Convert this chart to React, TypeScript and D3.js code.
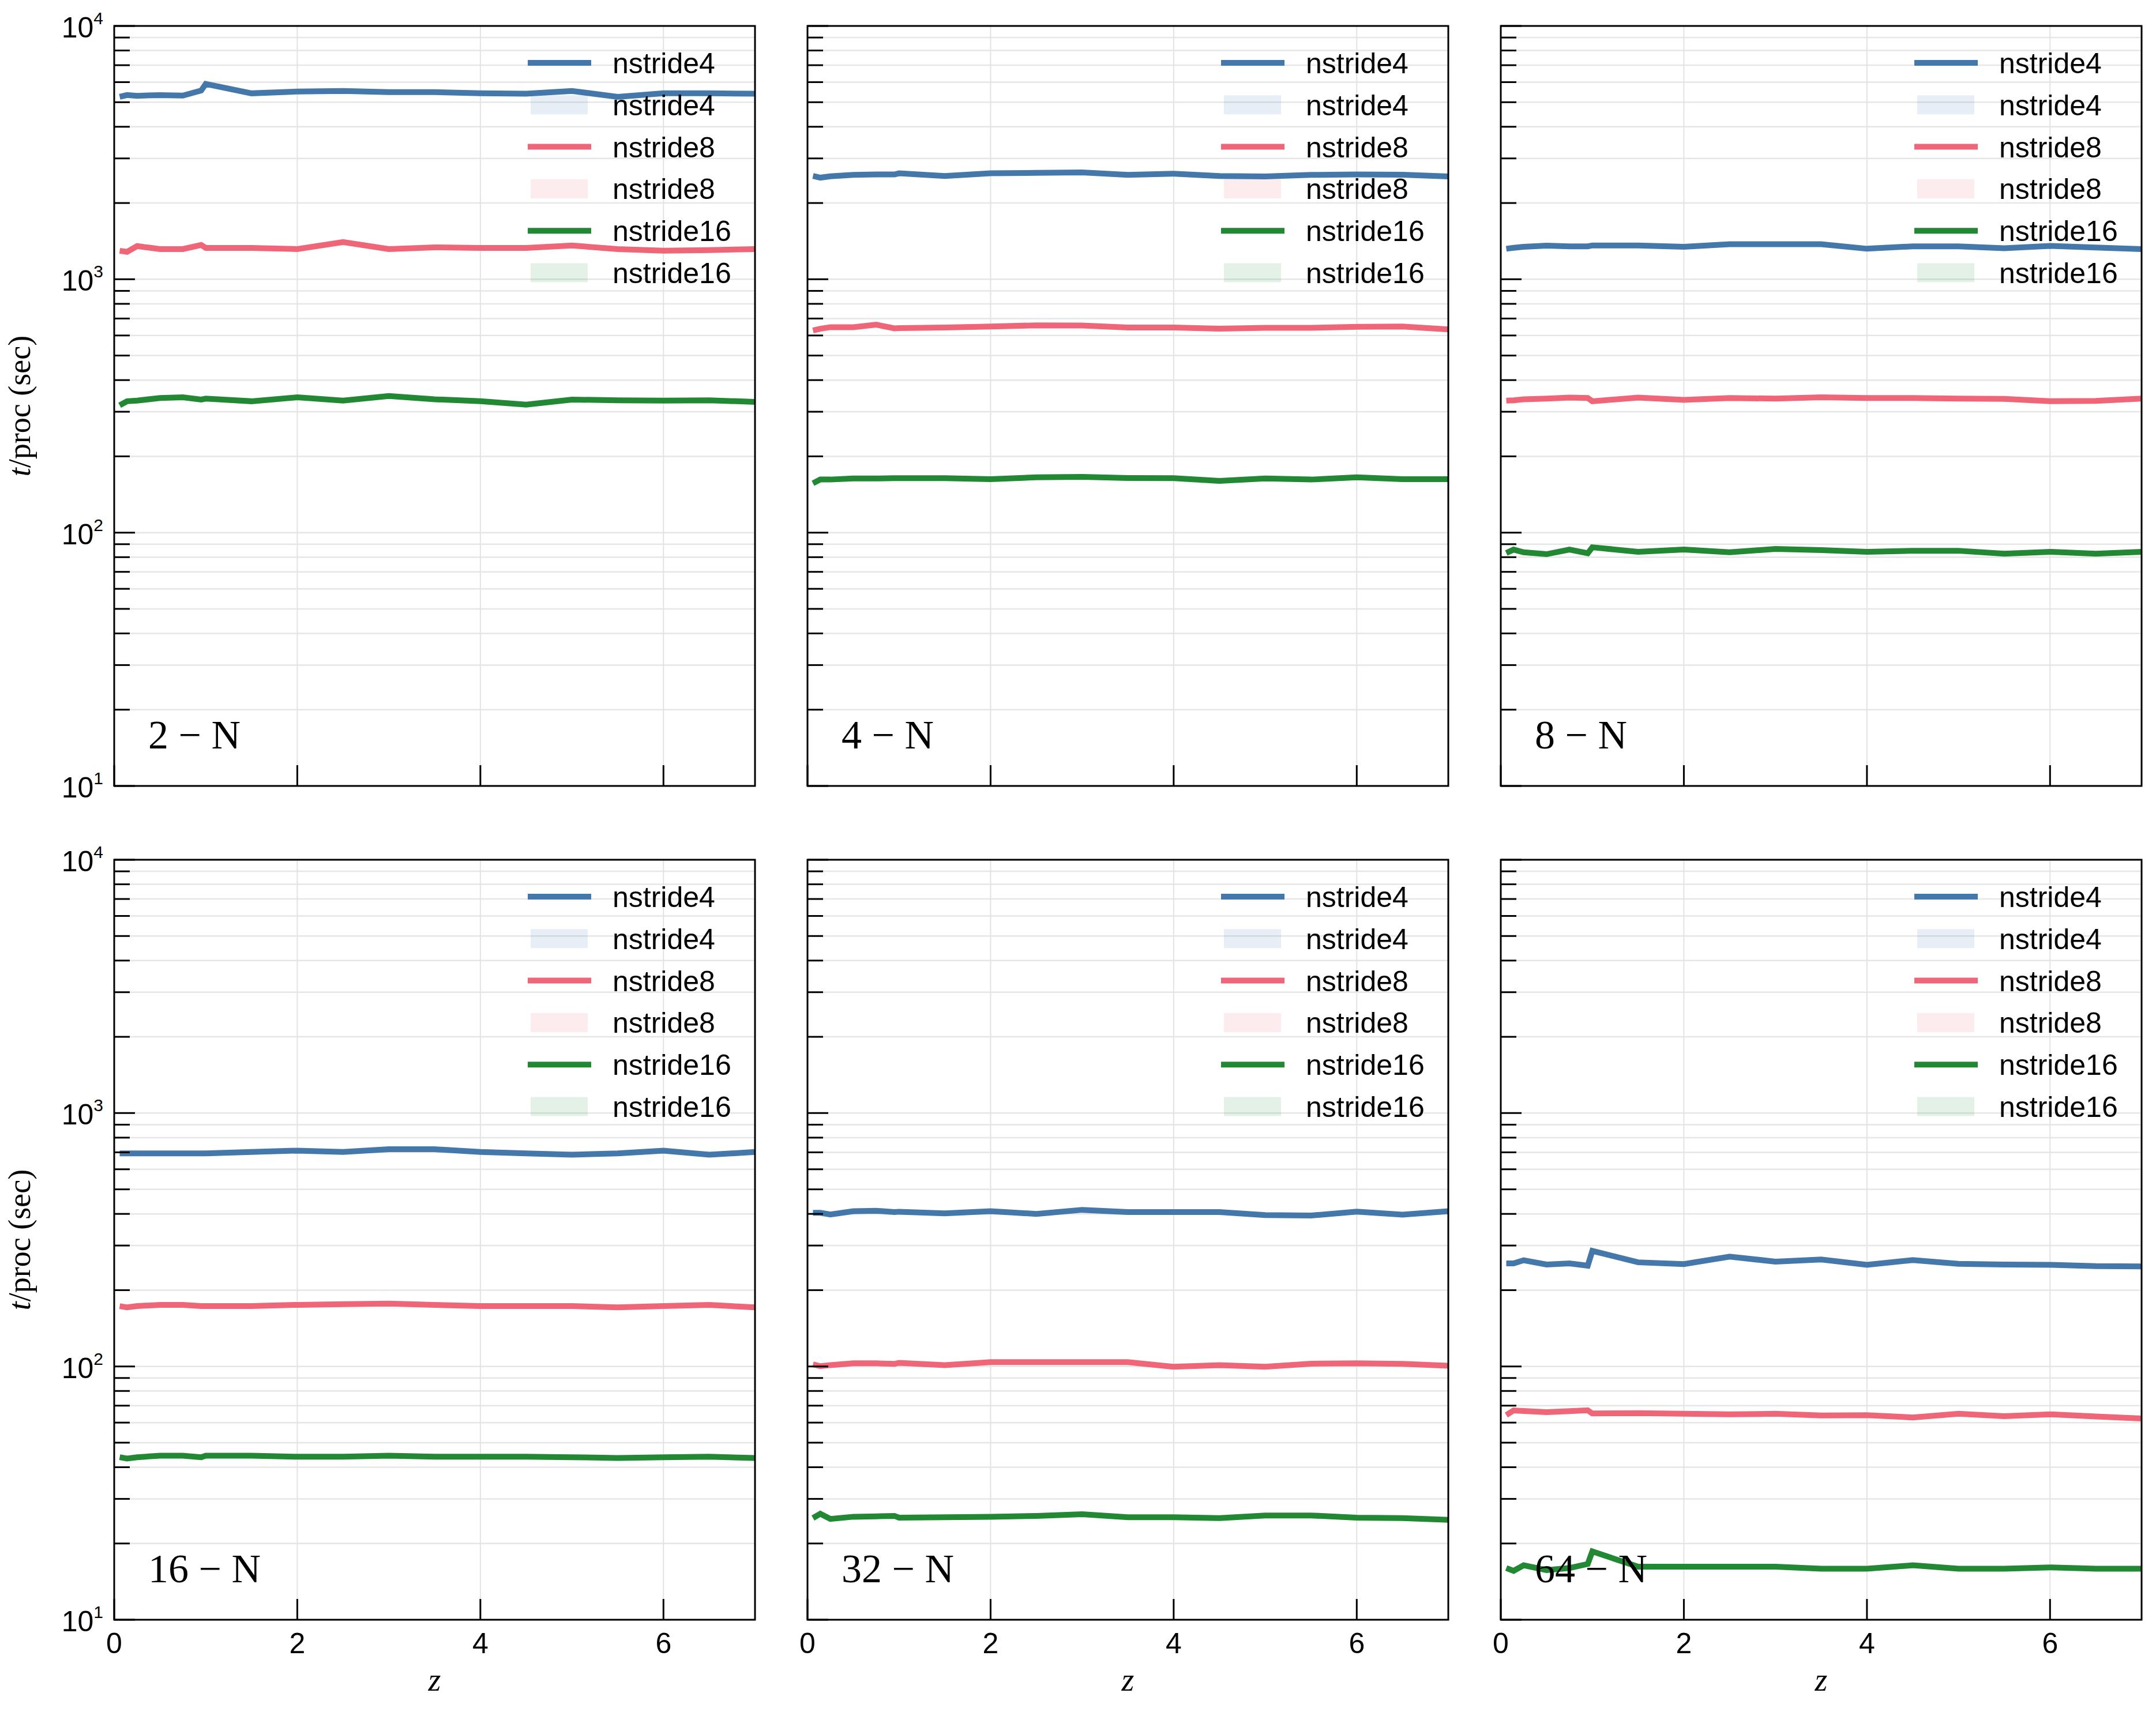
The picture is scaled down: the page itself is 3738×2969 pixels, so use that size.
import * as d3 from 'd3';

// redshift grid shared by every run
const z = [0.06, 0.14, 0.25, 0.5, 0.75, 0.95, 1, 1.5, 2, 2.5, 3, 3.5, 4, 4.5, 5, 5.5, 6, 6.5, 7];

// t/proc (sec) per panel and stride
const n2_stride4 = [5250, 5335, 5300, 5335, 5310, 5560, 5900, 5420, 5510, 5540, 5480, 5480, 5420, 5400, 5540, 5250, 5420, 5420, 5400];
const n2_stride8 = [1296, 1283, 1352, 1316, 1316, 1366, 1330, 1330, 1316, 1402, 1316, 1337, 1330, 1330, 1359, 1316, 1296, 1303, 1316];
const n2_stride16 = [318, 330, 332, 340, 342, 335, 338, 330, 342, 332, 346, 336, 330, 320, 335, 333, 332, 333, 328];

const n4_stride4 = [2557, 2519, 2550, 2582, 2593, 2593, 2620, 2557, 2620, 2631, 2642, 2582, 2610, 2557, 2547, 2582, 2593, 2588, 2547];
const n4_stride8 = [628, 638, 647, 647, 662, 640, 642, 645, 651, 658, 657, 645, 645, 638, 643, 643, 649, 651, 634];
const n4_stride16 = [156.6, 162, 162, 163.6, 163.6, 164, 164, 164, 162.6, 165.3, 166, 164.3, 164, 160, 163.6, 162, 165.3, 162.6, 162.6];

const n8_stride4 = [1320, 1331, 1343, 1357, 1349, 1349, 1360, 1360, 1343, 1376, 1376, 1376, 1320, 1349, 1349, 1326, 1354, 1334, 1315];
const n8_stride8 = [332, 333, 336, 338, 341, 340, 330, 341, 334, 340, 338, 342, 340, 340, 338, 337, 330, 331, 338];
const n8_stride16 = [83.1, 85.7, 83.6, 82.2, 85.7, 82.9, 87.5, 84.0, 85.7, 83.6, 86.2, 85.3, 84.0, 84.8, 84.8, 82.6, 84.0, 82.6, 84.0];

const n16_stride4 = [693, 693, 693, 693, 693, 693, 693, 702, 711, 702, 720, 720, 702, 693, 685, 693, 711, 685, 702];
const n16_stride8 = [173, 171, 173, 175, 175, 173, 173, 173, 175, 176, 177, 175, 173, 173, 173, 171, 173, 175, 171];
const n16_stride16 = [43.8, 43.3, 43.8, 44.4, 44.4, 43.8, 44.4, 44.4, 44.0, 44.0, 44.4, 44.0, 44.0, 44.0, 43.8, 43.5, 43.8, 44.0, 43.5];

const n32_stride4 = [404, 404, 398, 410, 411.6, 406.5, 408, 402, 410, 400, 415, 406.5, 406.5, 406.5, 395.7, 394, 408, 397, 410];
const n32_stride8 = [101.9, 100.2, 101.2, 102.9, 102.9, 102.3, 103.3, 101.2, 104, 104, 104, 104, 99.7, 101.2, 99.7, 102.5, 102.9, 102.3, 100.6];
const n32_stride16 = [25.2, 26.2, 25.0, 25.5, 25.6, 25.7, 25.3, 25.4, 25.5, 25.7, 26.1, 25.4, 25.4, 25.2, 25.8, 25.8, 25.3, 25.2, 24.8];

const n64_stride4 = [255, 255, 262.5, 252.4, 255, 249.8, 285.8, 257.6, 253.4, 271.3, 259.2, 264.1, 251.8, 263, 254, 252.4, 251.8, 248.7, 248.2];
const n64_stride8 = [64.3, 67.0, 66.7, 66.0, 66.6, 67.1, 65.2, 65.4, 65.0, 64.7, 65.0, 64.0, 64.2, 62.9, 65.0, 63.6, 64.7, 63.4, 62.3];
const n64_stride16 = [16.0, 15.6, 16.4, 15.7, 16.0, 16.6, 18.6, 16.2, 16.2, 16.2, 16.2, 15.9, 15.9, 16.4, 15.9, 15.9, 16.1, 15.9, 15.9];

const seriesNames = ['nstride4', 'nstride8', 'nstride16'];
const seriesColors = ['#4477aa', '#ee6677', '#228833'];
const xTicks = [0, 2, 4, 6];
const yExponents = [1, 2, 3, 4];

const panels = [
  { label: '2', series: [n2_stride4, n2_stride8, n2_stride16] },
  { label: '4', series: [n4_stride4, n4_stride8, n4_stride16] },
  { label: '8', series: [n8_stride4, n8_stride8, n8_stride16] },
  { label: '16', series: [n16_stride4, n16_stride8, n16_stride16] },
  { label: '32', series: [n32_stride4, n32_stride8, n32_stride16] },
  { label: '64', series: [n64_stride4, n64_stride8, n64_stride16] },
];

const W = 3738;
const H = 2969;
const colLeft = [198, 1400, 2602];
const rowTop = [45, 1491];
const pw = 1111;
const ph = 1318;

const sans = 'Liberation Sans, Arial, Helvetica, sans-serif';
const serif = 'Liberation Serif, Times New Roman, serif';

type PanelProps = {
  series: number[][];
  label: string;
  left: number;
  top: number;
  showX: boolean;
  showY: boolean;
};

function Panel({ series, label, left, top, showX, showY }: PanelProps) {
  const x = d3.scaleLinear().domain([0, 7]).range([0, pw]);
  const y = d3.scaleLog().domain([10, 1e4]).range([ph, 0]);
  const line = d3.line<number>()
    .x((_, i) => x(z[i]))
    .y(d => y(d));

  const yTicks = y.ticks();
  const isMajor = (v: number) => Math.abs(Math.log10(v) - Math.round(Math.log10(v))) < 1e-6;
  const rowGap = 72.8;

  return (
    <g transform={`translate(${left},${top})`}>
      {/* grid */}
      {yTicks.map(v => (
        <line key={'hg' + v} x1={0} x2={pw} y1={y(v)} y2={y(v)} stroke="#e6e6e6" strokeWidth={2.5} />
      ))}
      {xTicks.filter(t => t > 0).map(t => (
        <line key={'vg' + t} x1={x(t)} x2={x(t)} y1={0} y2={ph} stroke="#e3e3e3" strokeWidth={2} />
      ))}

      {/* data lines */}
      {series.map((s, i) => (
        <path key={'l' + i} d={line(s) || ''} fill="none" stroke={seriesColors[i]} strokeWidth={10} strokeLinejoin="miter" />
      ))}

      {/* legend: a line entry and a shaded entry per stride */}
      {seriesNames.map((name, i) => {
        const yl = 64 + 2 * i * rowGap;
        const yp = 64 + (2 * i + 1) * rowGap;
        return (
          <g key={'lg' + i}>
            <line x1={717} x2={827} y1={yl} y2={yl} stroke={seriesColors[i]} strokeWidth={10} />
            <text x={864} y={yl + 18} fontFamily={sans} fontSize={50} fill="#000">{name}</text>
            <rect x={722} y={yp - 16.5} width={99} height={33} fill={seriesColors[i]} fillOpacity={0.12} />
            <text x={864} y={yp + 18} fontFamily={sans} fontSize={50} fill="#000">{name}</text>
          </g>
        );
      })}

      {/* y ticks (inward) */}
      {yTicks.map(v => (
        <line key={'yt' + v} x1={0} x2={isMajor(v) ? 36 : 27} y1={y(v)} y2={y(v)} stroke="#000" strokeWidth={3} />
      ))}
      {/* x ticks (inward) */}
      {xTicks.map(t => (
        <line key={'xt' + t} x1={x(t)} x2={x(t)} y1={ph} y2={ph - 36} stroke="#000" strokeWidth={3} />
      ))}

      {/* frame */}
      <rect x={0} y={0} width={pw} height={ph} fill="none" stroke="#000" strokeWidth={3} />

      {showY && yExponents.map(e => (
        <text key={'yl' + e} x={-19} y={y(Math.pow(10, e)) + 20} textAnchor="end" fontFamily={sans} fontSize={50} fill="#000">
          10<tspan dy={-23} fontSize={30}>{e}</tspan>
        </text>
      ))}
      {showX && xTicks.map(t => (
        <text key={'xl' + t} x={x(t)} y={ph + 58} textAnchor="middle" fontFamily={sans} fontSize={50} fill="#000">{t}</text>
      ))}
      {showX && (
        <text x={pw / 2} y={ph + 123} textAnchor="middle" fontFamily={serif} fontStyle="italic" fontSize={56} fill="#000">z</text>
      )}

      <text x={59} y={ph - 65} fontFamily={serif} fontSize={70} fill="#000">{`${label} \u2212 N`}</text>
    </g>
  );
}

export default function App() {
  return (
    <div style={{ position: 'absolute', left: 0, top: 0 }}>
      <svg width={W} height={H} viewBox={`0 0 ${W} ${H}`} style={{ display: 'block', background: '#fff' }}>
        <rect x={0} y={0} width={W} height={H} fill="#fff" />
        {panels.map((p, i) => {
          const row = Math.floor(i / 3);
          const col = i % 3;
          return (
            <Panel
              key={p.label}
              series={p.series}
              label={p.label}
              left={colLeft[col]}
              top={rowTop[row]}
              showX={row === 1}
              showY={col === 0}
            />
          );
        })}
        {rowTop.map((t, r) => (
          <text
            key={'ylab' + r}
            transform={`translate(52,${t + ph / 2}) rotate(-90)`}
            textAnchor="middle"
            fontFamily={serif}
            fontSize={54}
            fill="#000"
          >
            <tspan fontStyle="italic">t</tspan>/proc (sec)
          </text>
        ))}
      </svg>
    </div>
  );
}
